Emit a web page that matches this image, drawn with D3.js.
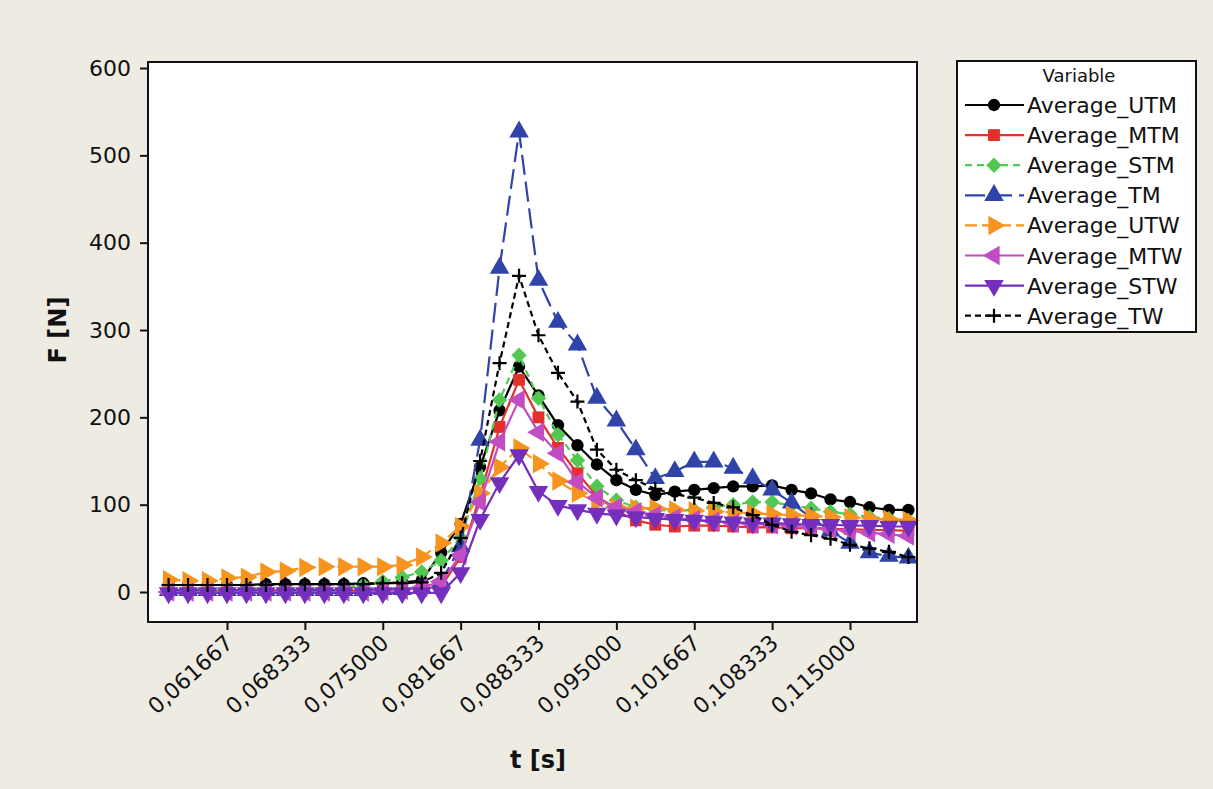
<!DOCTYPE html>
<html><head><meta charset="utf-8">
<script src="https://cdn.jsdelivr.net/npm/d3@7"></script>
<style>
html,body{margin:0;padding:0;background:#EEEBE3;}
svg{display:block;}
text{font-family:"DejaVu Sans",Verdana,sans-serif;fill:#111;}
</style></head><body>
<svg id="chart" width="1213" height="789"></svg>
<script>
const times = [0.056667,0.058333,0.060000,0.061667,0.063333,0.065000,0.066667,0.068333,0.070000,0.071667,
  0.073333,0.075000,0.076667,0.078333,0.080000,0.081667,0.083333,0.085000,0.086667,0.088333,
  0.090000,0.091667,0.093333,0.095000,0.096667,0.098333,0.100000,0.101667,0.103333,0.105000,
  0.106667,0.108333,0.110000,0.111667,0.113333,0.115000,0.116667,0.118333,0.120000];

const averageUTM = [8,8,8,8,8,9,9,9,9,9,10,10,11,13,45,78,143,208,258,225,191,168,146,128,117,111,115,117,119,121,121,122,117,113,106,103,97,94,94];
const averageMTM = [2,2,2,2,2,2,2,2,2,2,2,3,3,4,6,40,110,189,243,200,165,136,110,93,82,77,75,76,76,75,74,74,73,73,72,72,71,71,70];
const averageSTM = [3,3,3,3,3,3,3,3,3,4,8,12,17,23,36,62,130,220,271,222,180,151,121,105,97,94,93,94,97,100,103,103,99,96,92,89,86,84,82];
const averageTM  = [2,2,2,2,2,2,2,2,2,2,2,3,3,5,12,52,174,371,527,357,309,283,222,196,163,130,138,149,149,142,130,117,102,85,70,56,45,41,39];
const averageUTW = [14,13,13,16,17,23,24,28,29,29,29,29,31,40,56,75,113,143,165,147,127,113,103,97,96,96,94,93,92,91,90,89,88,87,86,85,84,83,82];
const averageMTW = [0,0,0,0,0,0,0,0,0,0,0,1,2,5,12,42,103,172,220,183,159,126,108,97,92,88,85,83,81,79,78,77,76,74,72,70,68,66,64];
const averageSTW = [-1,-1,-1,-1,-1,-1,-1,-1,-1,-1,-1,-1,-1,-1,-1,22,83,125,157,115,99,94,90,88,86,84,83,82,81,80,79,79,78,77,77,76,76,75,75];
const averageTW  = [8,8,8,8,8,8,9,9,9,9,9,10,10,11,22,62,150,262,362,294,251,218,163,140,128,118,112,108,102,97,88,77,69,65,61,54,50,46,40];

const seriesNames = ["Average_UTM","Average_MTM","Average_STM","Average_TM","Average_UTW","Average_MTW","Average_STW","Average_TW"];
const xTicks = [0.061667,0.068333,0.075000,0.081667,0.088333,0.095000,0.101667,0.108333,0.115000];
const xTickLabels = ["0,061667","0,068333","0,075000","0,081667","0,088333","0,095000","0,101667","0,108333","0,115000"];
const yTicks = [0,100,200,300,400,500,600];

const seriesValues = [averageUTM,averageMTM,averageSTM,averageTM,averageUTW,averageMTW,averageSTW,averageTW];
const styles = [
  {color:"#000000", dash:null,     sym:"circle"},
  {color:"#E3302A", dash:null,     sym:"square"},
  {color:"#52C852", dash:"7,5",    sym:"diamond"},
  {color:"#2F43A8", dash:"20,7",   sym:"tri"},
  {color:"#F7941D", dash:"12,5",   sym:"right"},
  {color:"#C24CC4", dash:null,     sym:"left"},
  {color:"#7430BC", dash:null,     sym:"down"},
  {color:"#000000", dash:"6,4",    sym:"plus"}
];

const svg = d3.select("#chart");
const L=148, R=917, T=62, B=622;
const x = d3.scaleLinear().domain([0.054904,0.120736]).range([L,R]);
const y = d3.scaleLinear().domain([-34.35,606.9]).range([B,T]);

svg.append("rect").attr("x",L).attr("y",T).attr("width",R-L).attr("height",B-T).attr("fill","#fff");

const symPath = {
  circle: d3.symbol().type(d3.symbolCircle).size(120)(),
  square: d3.symbol().type(d3.symbolSquare).size(140)(),
  diamond: d3.symbol().type(d3.symbolSquare).size(120)(),
  tri: d3.symbol().type(d3.symbolTriangle).size(165)(),
  right: d3.symbol().type(d3.symbolTriangle).size(165)(),
  left: d3.symbol().type(d3.symbolTriangle).size(165)(),
  down: d3.symbol().type(d3.symbolTriangle).size(165)()
};
const rot = {tri:0,right:90,left:-90,down:180,diamond:45};

function drawMarker(g, s, px, py){
  if(s.sym==="plus"){
    g.append("path").attr("d",`M${px-7},${py}H${px+7}M${px},${py-7}V${py+7}`)
      .attr("stroke",s.color).attr("stroke-width",2.2).attr("fill","none");
  } else {
    const r = rot[s.sym]!==undefined ? rot[s.sym] : 0;
    g.append("path").attr("d",symPath[s.sym])
      .attr("transform",`translate(${px},${py}) rotate(${r})`)
      .attr("fill",s.color);
  }
}

const line = d3.line().x(d=>x(d[0])).y(d=>y(d[1]));
const plot = svg.append("g");
seriesValues.forEach((vals,k)=>{
  const s = styles[k];
  const pts = times.map((t,i)=>[t,vals[i]]);
  const g = plot.append("g");
  g.append("path").attr("d",line(pts)).attr("fill","none").attr("stroke",s.color)
    .attr("stroke-width",2.2).attr("stroke-dasharray",s.dash);
  pts.forEach(p=>drawMarker(g,s,x(p[0]),y(p[1])));
});

// frame
svg.append("rect").attr("x",L).attr("y",T).attr("width",R-L).attr("height",B-T)
  .attr("fill","none").attr("stroke","#111").attr("stroke-width",2);

// y axis
const yAxis = d3.axisLeft(y).tickValues(yTicks).tickSize(8).tickPadding(9).tickFormat(d3.format("d"));
const gy = svg.append("g").attr("transform",`translate(${L},0)`).call(yAxis);
gy.select(".domain").remove();
gy.selectAll("line").attr("stroke","#111").attr("stroke-width",2);
gy.selectAll("text").attr("font-size",22).attr("font-family","DejaVu Sans").attr("fill","#111");

// x axis
const xAxis = d3.axisBottom(x).tickValues(xTicks).tickSize(8).tickFormat((d,i)=>xTickLabels[i]);
const gx = svg.append("g").attr("transform",`translate(0,${B})`).call(xAxis);
gx.select(".domain").remove();
gx.selectAll("line").attr("stroke","#111").attr("stroke-width",2);
gx.selectAll("text").attr("font-size",22).attr("font-family","DejaVu Sans").attr("fill","#111")
  .attr("text-anchor","end").attr("dy",null).attr("y",0)
  .attr("transform","translate(7,23) rotate(-42)");

// axis titles
svg.append("text").attr("x",538).attr("y",768).attr("text-anchor","middle")
  .attr("font-size",24).attr("font-weight","bold").text("t [s]");
svg.append("text").attr("transform","translate(66,330) rotate(-90)").attr("text-anchor","middle")
  .attr("font-size",24).attr("font-weight","bold").text("F [N]");

// legend
const lg = svg.append("g");
lg.append("rect").attr("x",957).attr("y",61).attr("width",239).attr("height",271)
  .attr("fill","#fff").attr("stroke","#111").attr("stroke-width",2);
lg.append("text").attr("x",1079).attr("y",82).attr("text-anchor","middle").attr("font-size",18).text("Variable");
seriesNames.forEach((n,k)=>{
  const s = styles[k];
  const cy = 105 + k*30.1;
  lg.append("line").attr("x1",965).attr("x2",1024).attr("y1",cy).attr("y2",cy)
    .attr("stroke",s.color).attr("stroke-width",2.2).attr("stroke-dasharray",s.dash);
  drawMarker(lg,s,994,cy);
  lg.append("text").attr("x",1027).attr("y",cy+8).attr("font-size",22).text(n);
});
</script>
</body></html>
